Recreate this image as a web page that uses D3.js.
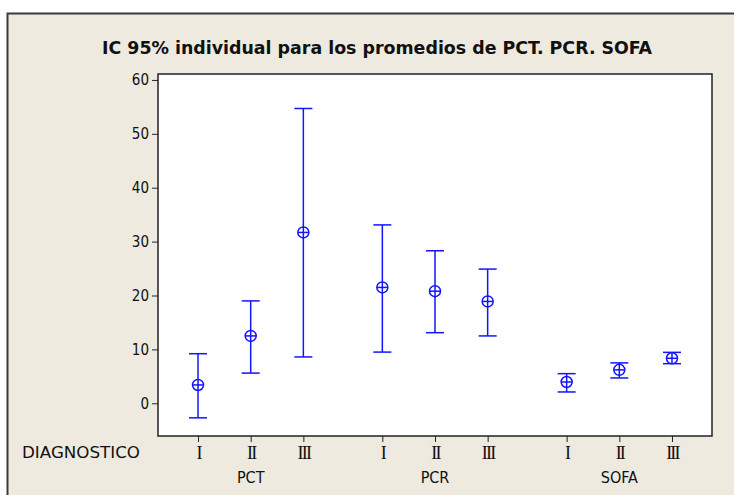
<!DOCTYPE html>
<html lang="es">
<head>
  <meta charset="UTF-8">
  <title>IC 95% individual</title>
  <script src="https://d3js.org/d3.v7.min.js"></script>
  <style>
    body { margin: 0; background: #fff; }
    text { font-family: "DejaVu Sans Condensed", "DejaVu Sans", sans-serif; font-stretch: condensed; fill: #111; }
  </style>
</head>
<body>
  <div id="chart"></div>
  <script>
    const groups = ["PCT", "PCR", "SOFA"];
    const levels = ["I", "II", "III"];
    const means = [3.4, 12.5, 31.7, 21.5, 20.8, 18.9, 3.95, 6.2, 8.35];
    const lower = [-2.7, 5.6, 8.6, 9.5, 13.1, 12.5, 2.1, 4.7, 7.35];
    const upper = [9.2, 19.0, 54.7, 33.1, 28.3, 24.9, 5.5, 7.5, 9.45];
    const yTicks = [0, 10, 20, 30, 40, 50, 60];

    const W = 734, H = 495;
    const plot = { left: 158, top: 74, right: 712, bottom: 436 };
    const blue = "#1414ff";

    const svg = d3.select("#chart").append("svg")
      .attr("width", W).attr("height", H);

    // outer frame
    svg.append("rect")
      .attr("x", 7.5).attr("y", 13.5)
      .attr("width", W + 10).attr("height", H + 10)
      .attr("fill", "#eeeae0")
      .attr("stroke", "#3a3a3a").attr("stroke-width", 2);

    svg.append("text")
      .attr("x", 377).attr("y", 54)
      .attr("text-anchor", "middle")
      .attr("font-weight", "bold")
      .attr("font-size", 18)
      .attr("textLength", 550)
      .attr("lengthAdjust", "spacingAndGlyphs")
      .text("IC 95% individual para los promedios de PCT. PCR. SOFA");

    // position of each point: groups separated by 1.5 units
    const pos = i => Math.floor(i / 3) * 3.5 + (i % 3);
    const x = d3.scaleLinear().domain([-0.76, 9.76]).range([plot.left, plot.right]);
    const y = d3.scaleLinear().domain([-6.07, 61.1]).range([plot.bottom, plot.top]);

    svg.append("rect")
      .attr("x", plot.left).attr("y", plot.top)
      .attr("width", plot.right - plot.left).attr("height", plot.bottom - plot.top)
      .attr("fill", "#fff").attr("stroke", "#222").attr("stroke-width", 1.5);

    const yAxis = svg.append("g")
      .attr("transform", `translate(${plot.left},0)`)
      .call(d3.axisLeft(y).tickValues(yTicks).tickSize(6).tickPadding(3));
    yAxis.select(".domain").remove();
    yAxis.selectAll("text").attr("font-size", 15);
    yAxis.selectAll("line").attr("stroke", "#222");

    const idx = d3.range(means.length);
    const xAxis = svg.append("g")
      .attr("transform", `translate(0,${plot.bottom})`)
      .call(d3.axisBottom(x).tickValues(idx.map(pos)).tickSize(6)
        .tickFormat((d, i) => levels[i % 3]));
    xAxis.select(".domain").remove();
    xAxis.selectAll("line").attr("stroke", "#222");
    xAxis.selectAll("text")
      .attr("y", 10)
      .style("font-family", "'Liberation Serif', serif")
      .style("font-stretch", "normal")
      .style("font-size", "18px")
      .style("letter-spacing", "-1.8px");

    svg.selectAll(".grp").data(groups).join("text")
      .attr("class", "grp")
      .attr("x", (d, i) => x(pos(i * 3 + 1)))
      .attr("y", 483)
      .attr("text-anchor", "middle")
      .attr("font-size", 16)
      .text(d => d);

    svg.append("text")
      .attr("x", 140).attr("y", 458)
      .attr("text-anchor", "end")
      .attr("font-size", 15)
      .attr("textLength", 118)
      .attr("lengthAdjust", "spacingAndGlyphs")
      .text("DIAGNOSTICO");

    const bars = svg.append("g").attr("stroke", blue).attr("fill", "none").attr("stroke-width", 1.5);
    idx.forEach(i => {
      const cx = x(pos(i));
      const g = bars.append("g");
      g.append("line").attr("x1", cx).attr("x2", cx).attr("y1", y(lower[i])).attr("y2", y(upper[i]));
      [lower[i], upper[i]].forEach(v => {
        g.append("line").attr("x1", cx - 9).attr("x2", cx + 9).attr("y1", y(v)).attr("y2", y(v));
      });
      const cy = y(means[i]);
      g.append("circle").attr("cx", cx).attr("cy", cy).attr("r", 5.5).attr("fill", "#fff");
      g.append("line").attr("x1", cx - 5.5).attr("x2", cx + 5.5).attr("y1", cy).attr("y2", cy);
      g.append("line").attr("x1", cx).attr("x2", cx).attr("y1", cy - 5.5).attr("y2", cy + 5.5);
    });
  </script>
</body>
</html>
